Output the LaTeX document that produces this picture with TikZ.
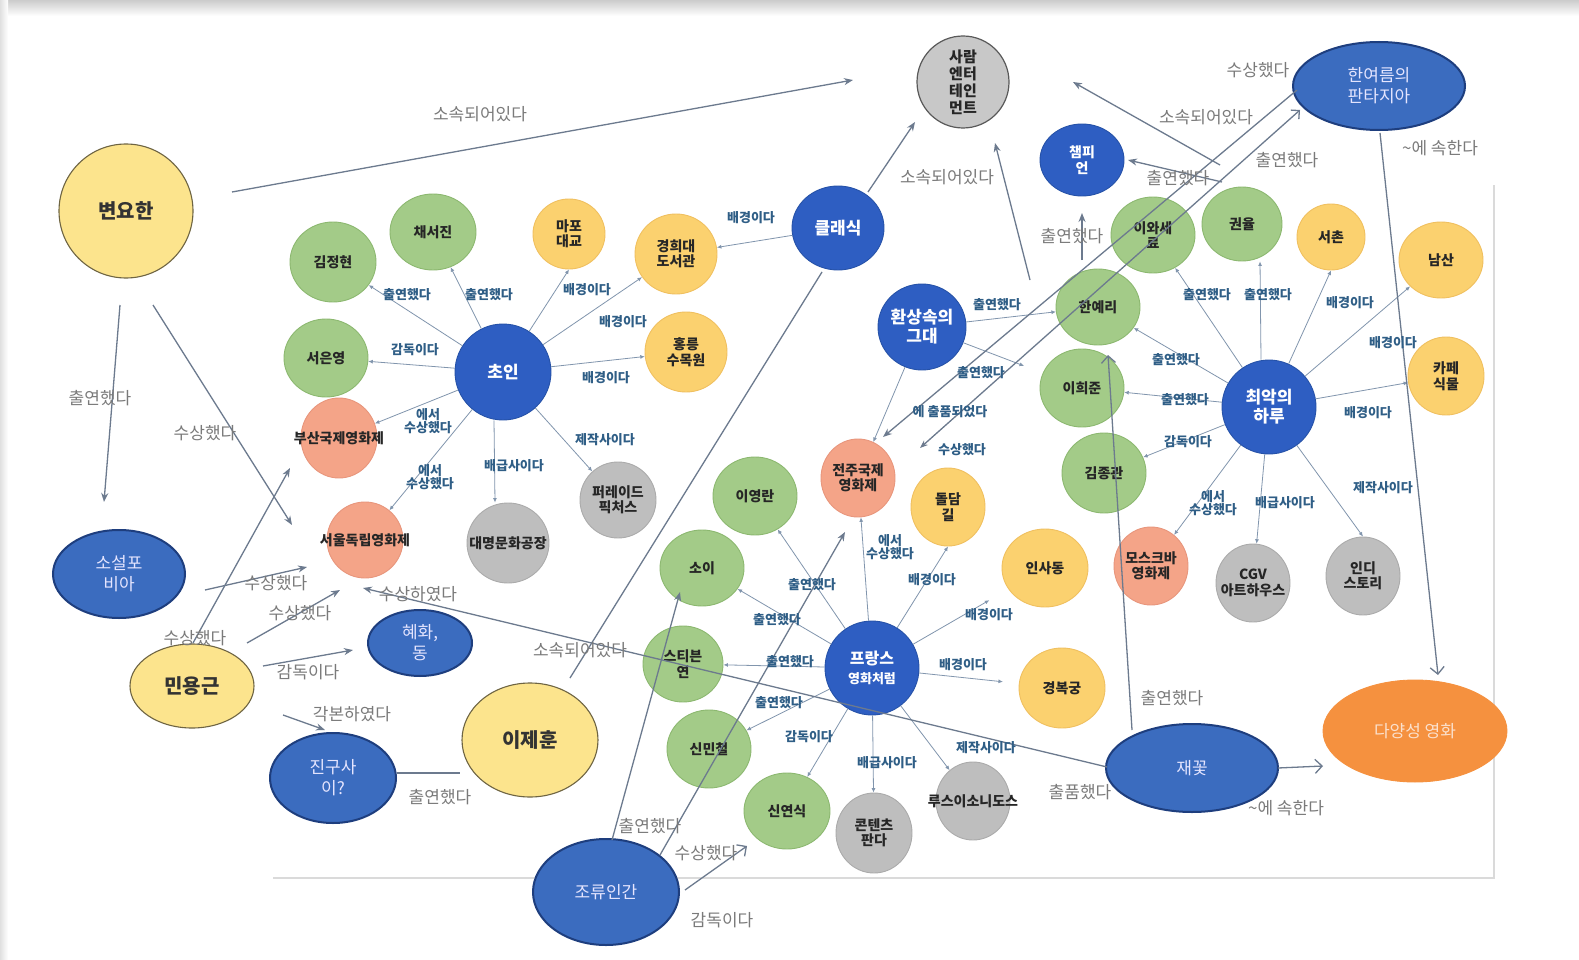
\documentclass[tikz,border=0pt]{standalone}
\usepackage{fontspec}
\setmainfont{Noto Sans CJK KR}
\usetikzlibrary{shapes.geometric,arrows.meta,calc}
\definecolor{cGreen}{HTML}{A3CB88}
\definecolor{cGreenD}{HTML}{8CB870}
\definecolor{cYel}{HTML}{FBD16F}
\definecolor{cYelD}{HTML}{F0C060}
\definecolor{cYelB}{HTML}{FCE48D}
\definecolor{cYelBD}{HTML}{6E6442}
\definecolor{cSal}{HTML}{F4A488}
\definecolor{cSalD}{HTML}{E8967C}
\definecolor{cGry}{HTML}{BEBEBE}
\definecolor{cGryD}{HTML}{ABABAB}
\definecolor{cBlu}{HTML}{2E5EC2}
\definecolor{cBluD}{HTML}{2652A8}
\definecolor{cBlo}{HTML}{3B6CBF}
\definecolor{cBloD}{HTML}{1E3E7E}
\definecolor{cOra}{HTML}{F5913F}
\definecolor{cOraT}{HTML}{FBE0CC}
\definecolor{cLine}{HTML}{8195AD}
\definecolor{cBig}{HTML}{6C7A8E}
\definecolor{cTeal}{HTML}{2F5E86}
\definecolor{cLab}{HTML}{7A7A7A}
\definecolor{cPage}{HTML}{DADADA}
\tikzset{
  nd/.style={ellipse, inner sep=0pt, line width=0.9pt},
  sz/.style 2 args={minimum width=#1pt, minimum height=#2pt},
  txs/.style={align=center, inner sep=0pt, text=black!85, font=\fontsize{14}{15.5}\selectfont\bfseries},
  txb/.style={align=center, inner sep=0pt, text=white, font=\fontsize{17}{19}\selectfont\bfseries},
  txo/.style={align=center, inner sep=0pt, text=white!90!blue, font=\fontsize{17}{21}\selectfont},
  txp/.style={align=center, inner sep=0pt, text=black!80, font=\fontsize{20}{22}\selectfont\bfseries},
  lbS/.style={label={[txs]center:#1}},
  lbB/.style={label={[txb]center:#1}},
  lbO/.style={label={[txo]center:#1}},
  lbP/.style={label={[txp]center:#1}},
  gnode/.style={nd, fill=cGreen, draw=cGreenD},
  ynode/.style={nd, fill=cYel, draw=cYelD},
  snode/.style={nd, fill=cSal, draw=cSalD},
  rnode/.style={nd, fill=cGry, draw=cGryD},
  bnode/.style={nd, fill=cBlu, draw=cBluD},
  onode/.style={nd, fill=cBlo, draw=cBloD, line width=2pt},
  pnode/.style={nd, fill=cYelB, draw=cYelBD, line width=1.1pt},
  sm/.style={draw=cLine, line width=0.8pt, -{Latex[length=4.5pt,width=4pt]}},
  bgl/.style={draw=cBig, line width=1.3pt},
  bg/.style={bgl, -{Stealth[length=9pt,width=7pt]}},
  bgo/.style={bgl, -{Straight Barb[length=7pt,width=14pt]}},
  tl/.style={text=cTeal, font=\fontsize{13}{13.5}\selectfont\bfseries, inner sep=1pt, align=center},
  gl/.style={text=cLab, font=\fontsize{17}{19}\selectfont, inner sep=1pt},
}
\begin{document}
\begin{tikzpicture}[x=1pt,y=-1pt]
\useasboundingbox (0,0) rectangle (1579,960);
\fill[white] (0,0) rectangle (1579,960);
\shade[top color=black!20, bottom color=white] (0,0) rectangle (1579,16);
\shade[left color=black!12, right color=white] (0,0) rectangle (8,960);
\draw[cPage, line width=2pt] (273,878) -- (1494,878) -- (1494,185);

% ---------- outer nodes
\node[pnode, sz={134}{134}, lbP={변요한}] (byh) at (126,211) {};
\node[onode, sz={132}{88}, lbO={소설포\\비아}] (sfb) at (119,574) {};
\node[pnode, sz={124}{84}, lbP={민용근}] (myg) at (192,686) {};
\node[onode, sz={104}{66}, lbO={{혜화,\\동}}] (hhd) at (420,643) {};
\node[onode, sz={126}{90}, lbO={진구사\\이?}] (jgs) at (333,778) {};
\node[pnode, sz={136}{114}, lbP={이제훈}] (ljh) at (530,740) {};
\node[onode, sz={146}{106}, lbO={조류인간}] (jrig) at (606,892) {};
\node[nd, sz={92}{92}, fill=cGry!85, draw=black!65, line width=1.2pt, label={[txs, font=\fontsize{15}{17}\selectfont\bfseries]center:{사람\\엔터\\테인\\먼트}}] (saram) at (963,82) {};
\node[onode, sz={172}{88}, lbO={한여름의\\판타지아}] (hyr) at (1379,86) {};
\node[onode, sz={172}{88}, lbO={재꽃}] (jk) at (1192,768) {};
\node[nd, sz={184}{102}, fill=cOra, draw=cOra, label={[txo, text=cOraT]center:다양성 영화}] (dys) at (1415,731) {};

% ---------- small network nodes
\node[gnode, sz={86}{80}, lbS={김정현}] (kjh) at (333,262) {};
\node[gnode, sz={86}{76}, lbS={채서진}] (csj) at (433,232) {};
\node[ynode, sz={72}{70}, lbS={마포\\대교}] (mpd) at (569,234) {};
\node[ynode, sz={82}{80}, lbS={경희대\\도서관}] (khd) at (676,254) {};
\node[bnode, sz={92}{84}, lbB={클래식}] (cls) at (838,228) {};
\node[gnode, sz={84}{78}, lbS={서은영}] (seo) at (326,358) {};
\node[bnode, sz={96}{96}, lbB={초인}] (choin) at (503,372) {};
\node[ynode, sz={82}{80}, lbS={홍릉\\수목원}] (hr) at (686,352) {};
\node[snode, sz={76}{80}, lbS={부산국제영화제}] (bif) at (339,438) {};
\node[snode, sz={76}{76}, lbS={서울독립영화제}] (sif) at (365,540) {};
\node[rnode, sz={82}{80}, lbS={대명문화공장}] (dm) at (508,543) {};
\node[rnode, sz={76}{76}, lbS={퍼레이드\\픽처스}] (pr) at (618,500) {};
\node[gnode, sz={84}{78}, lbS={이영란}] (lyr) at (755,496) {};
\node[gnode, sz={84}{76}, lbS={소이}] (soi) at (702,568) {};
\node[gnode, sz={80}{76}, lbS={스티븐\\연}] (sty) at (683,664) {};
\node[gnode, sz={84}{78}, lbS={신민철}] (smc) at (709,749) {};
\node[gnode, sz={86}{76}, lbS={신연식}] (sys) at (787,811) {};
\node[rnode, sz={76}{80}, lbS={콘텐츠\\판다}] (ctp) at (874,833) {};
\node[rnode, sz={74}{78}, lbS={루스이소니도스}] (lus) at (973,801) {};
\node[bnode, sz={94}{94}, lbB={{{\fontsize{16}{18}\selectfont 프랑스}\\{\fontsize{13}{15}\selectfont 영화처럼}}}] (fr) at (872,668) {};
\node[snode, sz={74}{78}, lbS={전주국제\\영화제}] (jif) at (858,478) {};
\node[ynode, sz={74}{78}, lbS={돌담\\길}] (ddg) at (948,507) {};
\node[ynode, sz={86}{78}, lbS={인사동}] (isd) at (1045,568) {};
\node[ynode, sz={86}{80}, lbS={경복궁}] (kbg) at (1062,688) {};
\node[bnode, sz={88}{86}, lbB={환상속의\\그대}] (hsg) at (922,327) {};
\node[bnode, sz={84}{72}, label={[txb, font=\fontsize{14}{16}\selectfont\bfseries]center:{챔피\\언}}] (chp) at (1082,160) {};
\node[gnode, sz={84}{76}, lbS={이와세\\료}] (iwa) at (1153,235) {};
\node[gnode, sz={80}{74}, lbS={권율}] (kyl) at (1242,224) {};
\node[ynode, sz={68}{66}, lbS={서촌}] (sch) at (1331,237) {};
\node[ynode, sz={84}{76}, lbS={남산}] (nms) at (1441,260) {};
\node[ynode, sz={76}{78}, lbS={카페\\식물}] (cafe) at (1446,376) {};
\node[gnode, sz={84}{76}, lbS={한예리}] (hyl) at (1098,307) {};
\node[gnode, sz={84}{78}, lbS={이희준}] (lhj) at (1082,388) {};
\node[gnode, sz={84}{80}, lbS={김종관}] (kjk) at (1104,473) {};
\node[bnode, sz={94}{94}, lbB={최악의\\하루}] (wd) at (1269,407) {};
\node[snode, sz={74}{78}, lbS={모스크바\\영화제}] (msc) at (1151,566) {};
\node[rnode, sz={74}{78}, lbS={CGV\\아트하우스}] (cgv) at (1253,583) {};
\node[rnode, sz={74}{78}, lbS={인디\\스토리}] (indi) at (1363,576) {};

% ---------- small network edges
\draw[sm] (choin) -- (kjh);
\draw[sm] (choin) -- (csj);
\draw[sm] (choin) -- (seo);
\draw[sm] (choin) -- (bif);
\draw[sm] (choin) -- (sif);
\draw[sm] ([xshift=-9pt]choin.south) -- ([xshift=-13pt]dm.north);
\draw[sm] (choin) -- (pr);
\draw[sm] (choin) -- (mpd.south);
\draw[sm] (choin) -- (khd);
\draw[sm] (choin) -- (hr);
\draw[sm] (cls) -- (khd);
\draw[sm] (fr) -- (lyr);
\draw[sm] (fr) -- (soi);
\draw[sm] (fr) -- (sty);
\draw[sm] (fr) -- (smc);
\draw[sm] (fr) -- (sys);
\draw[sm] (fr) -- (ctp);
\draw[sm] (fr) -- (lus);
\draw[sm, shorten >=16pt] (fr) -- (kbg);
\draw[sm, shorten >=22pt] (fr) -- (isd);
\draw[sm] (fr) -- (ddg.south);
\draw[sm] (fr) -- (jif);
\draw[sm] (wd) -- (iwa);
\draw[sm] ([xshift=-8pt]wd.north) -- ([xshift=18pt]kyl.south);
\draw[sm] (wd) -- (sch.south);
\draw[sm] (wd) -- (nms);
\draw[sm] (wd) -- (cafe);
\draw[sm] (wd) -- (hyl);
\draw[sm] (wd) -- (lhj);
\draw[sm] (wd) -- (kjk);
\draw[sm] (wd) -- (msc);
\draw[sm] (wd) -- (cgv);
\draw[sm] (wd) -- (indi.north);
\draw[sm] (hsg) -- (hyl);
\draw[sm, shorten >=20pt] (hsg) -- (lhj);
\draw[sm] (hsg) -- (jif);

% ---------- outer connectors
\coordinate (jrtip) at (747,846);
\draw[bg] ($(byh)+(106,-19)$) -- ($(saram)+(-110,-2)$);
\draw[bg] ($(byh)+(-6,94)$) -- ($(sfb)+(-15,-72)$);
\draw[bg] ($(byh)+(27,94)$) -- ($(sif)+(-73,-15)$);
\draw[bg] ($(sfb)+(86,16)$) -- ($(sif)+(-58,27)$);
\draw[bg] ($(myg)+(55,-43)$) -- ($(sif)+(-25,50)$);
\draw[bg] ($(myg)+(1,-43)$) -- ($(bif)+(-49,30)$);
\draw[bg] ($(myg)+(71,-20)$) -- ($(hhd)+(-67,7)$);
\draw[bg] ($(myg)+(91,29)$) -- ($(jgs)+(-8,-48)$);
\draw[bgl] ($(jgs)+(64,-5)$) -- ($(ljh)+(-70,33)$);
\draw[bgl] ($(ljh)+(40,-62)$) -- ($(cls)+(-16,44)$);
\draw[bg] ($(cls)+(30,-36)$) -- ($(saram)+(-48,40)$);
\draw[bg] ($(hyl)+(-68,-27)$) -- ($(saram)+(32,61)$);
\draw[bg] ($(kyl)+(-22,-59)$) -- ($(saram)+(110,0)$);
\draw[bg] ($(kyl)+(-20,-42)$) -- ($(chp)+(46,0)$);
\draw[bg] ($(hyl)+(-16,-47)$) -- ($(chp)+(0,53)$);
\draw[bgo] ($(hyr)+(1,47)$) -- ($(dys)+(23,-56)$);
\draw[bgo] ($(jk)+(86,0)$) -- ($(dys)+(-92,35)$);
\draw[bgo] ($(jk)+(-60,-38)$) -- ($(hyl)+(10,48)$);
\draw[bg] ($(jk)+(-85,-1)$) -- ($(sif)+(-2,48)$);
\draw[bg] ($(hyr)+(-82,4)$) -- ($(jif)+(25,-41)$);
\draw[bgl, {Stealth[length=8pt,width=6pt]}-{Straight Barb[length=6pt,width=12pt]}] ($(jif)+(62,-30)$) -- ($(hyr)+(-79,24)$);
\draw[bg] ($(jrig)+(6,-52)$) -- ($(soi)+(-22,24)$);
\draw[bg] ($(jrig)+(54,-37)$) -- ($(jif)+(-13,54)$);
\draw[bgo] ($(jrig)+(79,-2)$) -- (jrtip);

% ---------- gray labels
\node[gl] (g1) at (480,114) {소속되어있다};
\node[gl] (g2) at (100,398) {출연했다};
\node[gl] (g3) at (205,433) {수상했다};
\node[gl] (g4) at (276,583) {수상했다};
\node[gl] (g5) at (300,613) {수상했다};
\node[gl] (g6) at (195,638) {수상했다};
\node[gl] (g7) at (308,672) {감독이다};
\node[gl] (g8) at (352,714) {각본하였다};
\node[gl] (g9) at (440,797) {출연했다};
\node[gl] (g10) at (418,594) {수상하였다};
\node[gl] (g11) at (580,650) {소속되어있다};
\node[gl] (g12) at (947,177) {소속되어있다};
\node[gl] (g13) at (1072,236) {출연했다};
\node[gl] (g14) at (1178,178) {출연했다};
\node[gl] (g15) at (1206,117) {소속되어있다};
\node[gl] (g16) at (1258,70) {수상했다};
\node[gl] (g17) at (1287,160) {출연했다};
\node[gl] (g18) at (1440,148) {\textasciitilde 에 속한다};
\node[gl] (g19) at (1172,698) {출연했다};
\node[gl] (g20) at (1080,792) {출품했다};
\node[gl] (g21) at (1286,808) {\textasciitilde 에 속한다};
\node[gl] (g22) at (650,826) {출연했다};
\node[gl] (g23) at (706,853) {수상했다};
\node[gl] (g24) at (722,920) {감독이다};

% ---------- teal labels
\node[tl] (t1) at (407,295) {출연했다};
\node[tl] (t2) at (489,295) {출연했다};
\node[tl] (t3) at (415,350) {감독이다};
\node[tl] (t4) at (428,421) {에서\\수상했다};
\node[tl] (t5) at (430,477) {에서\\수상했다};
\node[tl] (t6) at (514,466) {배급사이다};
\node[tl] (t7) at (605,440) {제작사이다};
\node[tl] (t8) at (587,290) {배경이다};
\node[tl] (t9) at (623,322) {배경이다};
\node[tl] (t10) at (606,378) {배경이다};
\node[tl] (t11) at (751,218) {배경이다};
\node[tl] (t12) at (812,585) {출연했다};
\node[tl] (t13) at (777,620) {출연했다};
\node[tl] (t14) at (790,662) {출연했다};
\node[tl] (t15) at (779,703) {출연했다};
\node[tl] (t16) at (809,737) {감독이다};
\node[tl] (t17) at (887,763) {배급사이다};
\node[tl] (t18) at (986,748) {제작사이다};
\node[tl] (t19) at (963,665) {배경이다};
\node[tl] (t20) at (989,615) {배경이다};
\node[tl] (t21) at (932,580) {배경이다};
\node[tl] (t22) at (890,547) {에서\\수상했다};
\node[tl] (t23) at (997,305) {출연했다};
\node[tl] (t24) at (981,373) {출연했다};
\node[tl] (t25) at (950,412) {에 출품되었다};
\node[tl] (t26) at (962,450) {수상했다};
\node[tl] (t27) at (1207,295) {출연했다};
\node[tl] (t28) at (1268,295) {출연했다};
\node[tl] (t29) at (1350,303) {배경이다};
\node[tl] (t30) at (1393,343) {배경이다};
\node[tl] (t31) at (1368,413) {배경이다};
\node[tl] (t32) at (1176,360) {출연했다};
\node[tl] (t33) at (1185,400) {출연했다};
\node[tl] (t34) at (1188,442) {감독이다};
\node[tl] (t35) at (1213,503) {에서\\수상했다};
\node[tl] (t36) at (1285,503) {배급사이다};
\node[tl] (t37) at (1383,488) {제작사이다};
\end{tikzpicture}
\end{document}
